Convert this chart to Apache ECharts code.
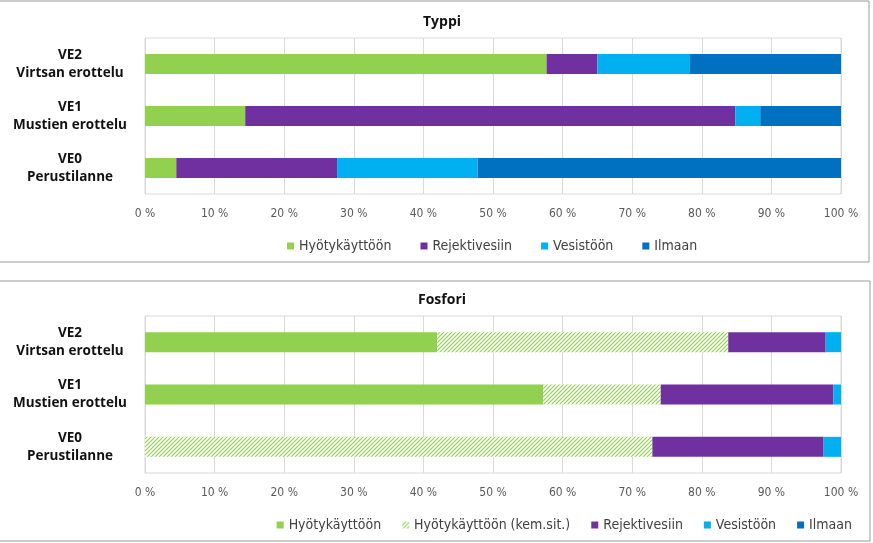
<!DOCTYPE html>
<html>
<head>
<meta charset="utf-8">
<script src="https://cdn.jsdelivr.net/npm/echarts@6/dist/echarts.min.js"></script>
<style>html,body{margin:0;padding:0;background:#fff;}#c{width:873px;height:543px;}</style>
</head>
<body>
<div id="c"></div>
<script>
// Categories (bottom to top)
const categories = ['VE0\nPerustilanne', 'VE1\nMustien erottelu', 'VE2\nVirtsan erottelu'];
const tickLabels = ['0 %','10 %','20 %','30 %','40 %','50 %','60 %','70 %','80 %','90 %','100 %'];

// Typpi (%)
const typpiHyoty    = [4.5, 14.4, 57.7];
const typpiRejekti  = [23.1, 70.4, 7.3];
const typpiVesisto  = [20.2, 3.6, 13.3];
const typpiIlmaan   = [52.2, 11.6, 21.7];

// Fosfori (%)
const fosHyoty      = [0, 57.2, 42.0];
const fosHyotyKem   = [72.9, 16.9, 41.8];
const fosRejekti    = [24.6, 24.8, 14.0];
const fosVesisto    = [2.5, 1.1, 2.2];
const fosIlmaan     = [0, 0, 0];

const GREEN = '#92D050', PURPLE = '#7030A0', LBLUE = '#00B0F0', DBLUE = '#0070C0';

function hatch() {
  const s = 4;
  const c = document.createElement('canvas');
  c.width = s; c.height = s;
  const g = c.getContext('2d');
  g.fillStyle = '#ffffff'; g.fillRect(0,0,s,s);
  g.strokeStyle = GREEN; g.lineWidth = 1.1;
  g.beginPath();
  g.moveTo(0,s); g.lineTo(s,0);
  g.moveTo(-1,1); g.lineTo(1,-1);
  g.moveTo(s-1,s+1); g.lineTo(s+1,s-1);
  g.stroke();
  return {image: c, repeat: 'repeat'};
}
const HATCH = hatch();

const FONT = "'DejaVu Sans Condensed','Liberation Sans Narrow','Liberation Sans',sans-serif";
const BFONT = "'Open Sans','Liberation Sans',sans-serif";
const gridStyle = {left:145, width:696, show:true, borderColor:'#D9D9D9', borderWidth:1};

function xAx(i){
  return {type:'value', gridIndex:i, min:0, max:100, interval:10,
    axisLine:{show:false}, axisTick:{show:false},
    splitLine:{lineStyle:{color:'#D9D9D9'}},
    axisLabel:{margin:14, color:'#595959', fontSize:12, fontFamily:FONT,
      formatter:function(v){return tickLabels[Math.round(v/10)];}}};
}
function yAx(i){
  return {type:'category', gridIndex:i, data:categories,
    axisLine:{show:true, lineStyle:{color:'#D9D9D9'}}, axisTick:{show:false},
    axisLabel:{align:'center', margin:75, color:'#111', fontWeight:'bold',
      fontSize:13.5, lineHeight:18, fontFamily:BFONT}};
}
function bar(name, data, color, i){
  return {name:name, type:'bar', stack:'s'+i, xAxisIndex:i, yAxisIndex:i,
    barWidth:20, data:data, itemStyle:{color:color}, emphasis:{disabled:true}};
}

const legendText = {color:'#404040', fontSize:14, fontFamily:FONT};

const option = {
  animation:false,
  graphic:[
    {type:'rect', shape:{x:-2, y:1, width:871, height:261}, style:{fill:'none', stroke:'#9a9a9a', lineWidth:1}},
    {type:'rect', shape:{x:-2, y:281, width:872, height:260}, style:{fill:'none', stroke:'#9a9a9a', lineWidth:1}}
  ],
  title:[
    {text:'Typpi', left:437, top:10, textAlign:'center', textStyle:{fontSize:14, fontWeight:'bold', color:'#111', fontFamily:BFONT}},
    {text:'Fosfori', left:437, top:288, textAlign:'center', textStyle:{fontSize:14, fontWeight:'bold', color:'#111', fontFamily:BFONT}}
  ],
  legend:[
    {left:282, top:234, itemWidth:7, itemHeight:7, itemGap:29, icon:'rect',
     data:['Hyötykäyttöön','Rejektivesiin','Vesistöön','Ilmaan'], textStyle:legendText, selectedMode:false},
    {right:16, top:513, itemWidth:7, itemHeight:7, itemGap:21, icon:'rect',
     data:['Hyötykäyttöön','Hyötykäyttöön (kem.sit.)','Rejektivesiin','Vesistöön','Ilmaan'], textStyle:legendText, selectedMode:false}
  ],
  grid:[
    Object.assign({top:38, height:156}, gridStyle),
    Object.assign({top:316, height:157}, gridStyle)
  ],
  xAxis:[xAx(0), xAx(1)],
  yAxis:[yAx(0), yAx(1)],
  series:[
    bar('Hyötykäyttöön', typpiHyoty, GREEN, 0),
    bar('Rejektivesiin', typpiRejekti, PURPLE, 0),
    bar('Vesistöön', typpiVesisto, LBLUE, 0),
    bar('Ilmaan', typpiIlmaan, DBLUE, 0),
    bar('Hyötykäyttöön', fosHyoty, GREEN, 1),
    bar('Hyötykäyttöön (kem.sit.)', fosHyotyKem, HATCH, 1),
    bar('Rejektivesiin', fosRejekti, PURPLE, 1),
    bar('Vesistöön', fosVesisto, LBLUE, 1),
    bar('Ilmaan', fosIlmaan, DBLUE, 1)
  ]
};
echarts.init(document.getElementById('c')).setOption(option);
</script>
</body>
</html>
